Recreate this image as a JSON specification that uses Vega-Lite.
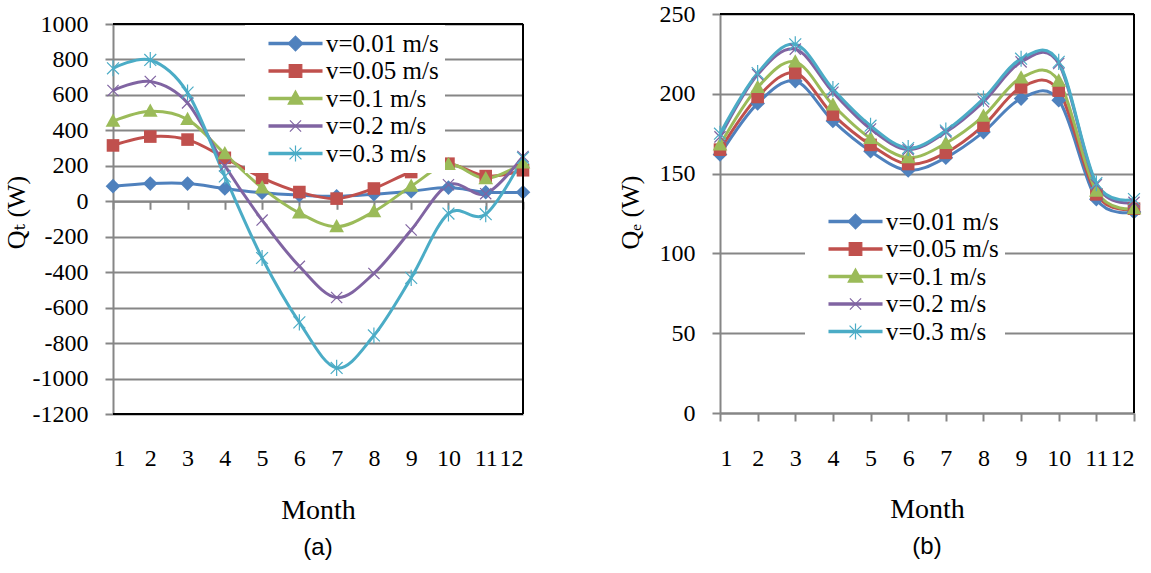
{
  "$schema": "https://vega.github.io/schema/vega-lite/v6.json",
  "background": "white",
  "padding": {"left": 3, "top": 2, "right": 5, "bottom": 5},
  "bounds": "flush",
  "spacing": 197,
  "resolve": {
    "scale": {"color": "independent", "shape": "independent", "stroke": "independent"},
    "legend": {"color": "independent", "shape": "independent", "stroke": "independent"}
  },
  "config": {
    "view": {"stroke": null},
    "axis": {
      "labelFont": "Liberation Serif", "labelFontSize": 24, "labelColor": "black",
      "titleFont": "Liberation Serif, DejaVu Serif", "titleFontSize": 26, "titleFontWeight": "normal", "titleColor": "black",
      "domainColor": "#868686", "domainWidth": 2, "tickColor": "#868686", "tickWidth": 2, "tickSize": 8,
      "gridColor": "#868686", "gridWidth": 2
    },
    "legend": {
      "padding": 6, "symbolSize": 196, "symbolOffset": 32, "labelOffset": 18,
      "labelFont": "Liberation Serif", "labelFontSize": 25, "labelColor": "black", "rowPadding": 1.5
    },
    "title": {"font": "Liberation Sans", "fontSize": 24, "fontWeight": "normal", "color": "black"}
  },
  "datasets": {
    "qt": [
      {"m": 1, "s": "v=0.01 m/s", "q": 85}, {"m": 2, "s": "v=0.01 m/s", "q": 100}, {"m": 3, "s": "v=0.01 m/s", "q": 100}, {"m": 4, "s": "v=0.01 m/s", "q": 72}, {"m": 5, "s": "v=0.01 m/s", "q": 48}, {"m": 6, "s": "v=0.01 m/s", "q": 35}, {"m": 7, "s": "v=0.01 m/s", "q": 28}, {"m": 8, "s": "v=0.01 m/s", "q": 40}, {"m": 9, "s": "v=0.01 m/s", "q": 57}, {"m": 10, "s": "v=0.01 m/s", "q": 77}, {"m": 11, "s": "v=0.01 m/s", "q": 51}, {"m": 12, "s": "v=0.01 m/s", "q": 51},
      {"m": 1, "s": "v=0.05 m/s", "q": 315}, {"m": 2, "s": "v=0.05 m/s", "q": 365}, {"m": 3, "s": "v=0.05 m/s", "q": 348}, {"m": 4, "s": "v=0.05 m/s", "q": 245}, {"m": 5, "s": "v=0.05 m/s", "q": 132}, {"m": 6, "s": "v=0.05 m/s", "q": 52}, {"m": 7, "s": "v=0.05 m/s", "q": 15}, {"m": 8, "s": "v=0.05 m/s", "q": 72}, {"m": 9, "s": "v=0.05 m/s", "q": 165}, {"m": 10, "s": "v=0.05 m/s", "q": 212}, {"m": 11, "s": "v=0.05 m/s", "q": 142}, {"m": 12, "s": "v=0.05 m/s", "q": 175},
      {"m": 1, "s": "v=0.1 m/s", "q": 452}, {"m": 2, "s": "v=0.1 m/s", "q": 508}, {"m": 3, "s": "v=0.1 m/s", "q": 462}, {"m": 4, "s": "v=0.1 m/s", "q": 268}, {"m": 5, "s": "v=0.1 m/s", "q": 76}, {"m": 6, "s": "v=0.1 m/s", "q": -66}, {"m": 7, "s": "v=0.1 m/s", "q": -143}, {"m": 8, "s": "v=0.1 m/s", "q": -58}, {"m": 9, "s": "v=0.1 m/s", "q": 85}, {"m": 10, "s": "v=0.1 m/s", "q": 208}, {"m": 11, "s": "v=0.1 m/s", "q": 128}, {"m": 12, "s": "v=0.1 m/s", "q": 216},
      {"m": 1, "s": "v=0.2 m/s", "q": 625}, {"m": 2, "s": "v=0.2 m/s", "q": 676}, {"m": 3, "s": "v=0.2 m/s", "q": 555}, {"m": 4, "s": "v=0.2 m/s", "q": 200}, {"m": 5, "s": "v=0.2 m/s", "q": -106}, {"m": 6, "s": "v=0.2 m/s", "q": -367}, {"m": 7, "s": "v=0.2 m/s", "q": -543}, {"m": 8, "s": "v=0.2 m/s", "q": -407}, {"m": 9, "s": "v=0.2 m/s", "q": -162}, {"m": 10, "s": "v=0.2 m/s", "q": 93}, {"m": 11, "s": "v=0.2 m/s", "q": 43}, {"m": 12, "s": "v=0.2 m/s", "q": 253},
      {"m": 1, "s": "v=0.3 m/s", "q": 750}, {"m": 2, "s": "v=0.3 m/s", "q": 797}, {"m": 3, "s": "v=0.3 m/s", "q": 613}, {"m": 4, "s": "v=0.3 m/s", "q": 140}, {"m": 5, "s": "v=0.3 m/s", "q": -320}, {"m": 6, "s": "v=0.3 m/s", "q": -683}, {"m": 7, "s": "v=0.3 m/s", "q": -940}, {"m": 8, "s": "v=0.3 m/s", "q": -757}, {"m": 9, "s": "v=0.3 m/s", "q": -432}, {"m": 10, "s": "v=0.3 m/s", "q": -69}, {"m": 11, "s": "v=0.3 m/s", "q": -73}, {"m": 12, "s": "v=0.3 m/s", "q": 245}
    ],
    "qe": [
      {"m": 1, "s": "v=0.01 m/s", "q": 162}, {"m": 2, "s": "v=0.01 m/s", "q": 194}, {"m": 3, "s": "v=0.01 m/s", "q": 208}, {"m": 4, "s": "v=0.01 m/s", "q": 183}, {"m": 5, "s": "v=0.01 m/s", "q": 164}, {"m": 6, "s": "v=0.01 m/s", "q": 152}, {"m": 7, "s": "v=0.01 m/s", "q": 160}, {"m": 8, "s": "v=0.01 m/s", "q": 176}, {"m": 9, "s": "v=0.01 m/s", "q": 197}, {"m": 10, "s": "v=0.01 m/s", "q": 196}, {"m": 11, "s": "v=0.01 m/s", "q": 134}, {"m": 12, "s": "v=0.01 m/s", "q": 126},
      {"m": 1, "s": "v=0.05 m/s", "q": 165}, {"m": 2, "s": "v=0.05 m/s", "q": 198}, {"m": 3, "s": "v=0.05 m/s", "q": 213}, {"m": 4, "s": "v=0.05 m/s", "q": 187}, {"m": 5, "s": "v=0.05 m/s", "q": 168}, {"m": 6, "s": "v=0.05 m/s", "q": 156}, {"m": 7, "s": "v=0.05 m/s", "q": 163}, {"m": 8, "s": "v=0.05 m/s", "q": 180}, {"m": 9, "s": "v=0.05 m/s", "q": 204}, {"m": 10, "s": "v=0.05 m/s", "q": 202}, {"m": 11, "s": "v=0.05 m/s", "q": 137}, {"m": 12, "s": "v=0.05 m/s", "q": 128},
      {"m": 1, "s": "v=0.1 m/s", "q": 168}, {"m": 2, "s": "v=0.1 m/s", "q": 204}, {"m": 3, "s": "v=0.1 m/s", "q": 220}, {"m": 4, "s": "v=0.1 m/s", "q": 193}, {"m": 5, "s": "v=0.1 m/s", "q": 172}, {"m": 6, "s": "v=0.1 m/s", "q": 160}, {"m": 7, "s": "v=0.1 m/s", "q": 169}, {"m": 8, "s": "v=0.1 m/s", "q": 186}, {"m": 9, "s": "v=0.1 m/s", "q": 210}, {"m": 10, "s": "v=0.1 m/s", "q": 208}, {"m": 11, "s": "v=0.1 m/s", "q": 139}, {"m": 12, "s": "v=0.1 m/s", "q": 128},
      {"m": 1, "s": "v=0.2 m/s", "q": 173}, {"m": 2, "s": "v=0.2 m/s", "q": 212}, {"m": 3, "s": "v=0.2 m/s", "q": 228}, {"m": 4, "s": "v=0.2 m/s", "q": 201}, {"m": 5, "s": "v=0.2 m/s", "q": 178}, {"m": 6, "s": "v=0.2 m/s", "q": 165}, {"m": 7, "s": "v=0.2 m/s", "q": 176}, {"m": 8, "s": "v=0.2 m/s", "q": 195}, {"m": 9, "s": "v=0.2 m/s", "q": 220}, {"m": 10, "s": "v=0.2 m/s", "q": 219}, {"m": 11, "s": "v=0.2 m/s", "q": 143}, {"m": 12, "s": "v=0.2 m/s", "q": 132},
      {"m": 1, "s": "v=0.3 m/s", "q": 175}, {"m": 2, "s": "v=0.3 m/s", "q": 213}, {"m": 3, "s": "v=0.3 m/s", "q": 231}, {"m": 4, "s": "v=0.3 m/s", "q": 203}, {"m": 5, "s": "v=0.3 m/s", "q": 180}, {"m": 6, "s": "v=0.3 m/s", "q": 166}, {"m": 7, "s": "v=0.3 m/s", "q": 177}, {"m": 8, "s": "v=0.3 m/s", "q": 197}, {"m": 9, "s": "v=0.3 m/s", "q": 222}, {"m": 10, "s": "v=0.3 m/s", "q": 220}, {"m": 11, "s": "v=0.3 m/s", "q": 144}, {"m": 12, "s": "v=0.3 m/s", "q": 134}
    ]
  },
  "hconcat": [
    {
      "width": 410,
      "height": 400,
      "data": {"name": "qt"},
      "title": {"text": "(a)", "orient": "bottom", "anchor": "middle", "offset": 12},
      "resolve": {"axis": {"x": "independent", "y": "independent"}},
      "layer": [
        {
          "mark": {"type": "line", "interpolate": "cardinal", "strokeWidth": 3},
          "encoding": {
            "x": {"field": "m", "type": "quantitative", "scale": {"domain": [1, 12], "nice": false, "zero": false},
              "axis": {"orient": "bottom", "values": [1,2,3,4,5,6,7,8,9,10,11,12], "format": "d", "domain": false, "ticks": false, "tickSize": 0, "labelPadding": 32, "grid": false, "title": "Month", "titleFontSize": 28, "titleY": 96, "titleBaseline": "middle"}},
            "y": {"field": "q", "type": "quantitative", "scale": {"domain": [-1200, 1000], "range": [400, 10], "nice": false, "zero": false},
              "axis": {"orient": "left", "values": [-1200,-1000,-800,-600,-400,-200,0,200,400,600,800,1000], "labelExpr": "'' + datum.value", "grid": true, "labelPadding": 17, "title": "Qₜ (W)", "titleX": -97, "titleY": 198, "titleAlign": "center", "titleBaseline": "middle", "titleAngle": 270}},
            "stroke": {"field": "s", "type": "nominal",
              "scale": {"domain": ["v=0.01 m/s","v=0.05 m/s","v=0.1 m/s","v=0.2 m/s","v=0.3 m/s","-"], "range": ["#4F81BD","#C0504D","#9BBB59","#8064A2","#4BACC6","#000000"]},
              "legend": {"title": null, "orient": "none", "legendX": 132, "legendY": 11, "values": ["v=0.01 m/s","v=0.05 m/s","v=0.1 m/s","v=0.2 m/s","v=0.3 m/s"],
                "symbolType": "M-3.86,0H3.86", "symbolStrokeWidth": 3.5, "labelOpacity": 0, "fillColor": "white", "zindex": 1}}
          }
        },
        {
          "transform": [{"filter": {"field": "s", "oneOf": ["v=0.01 m/s","v=0.05 m/s","v=0.1 m/s"]}}],
          "mark": {"type": "point", "filled": true, "size": 196, "strokeWidth": 1.2, "opacity": 1},
          "encoding": {
            "x": {"field": "m", "type": "quantitative", "scale": {"domain": [1, 12], "nice": false, "zero": false},
              "axis": {"orient": "bottom", "offset": -212.73, "values": [1,2,3,4,5,6,7,8,9,10,11,12], "labels": false, "domain": true, "ticks": true, "grid": false, "title": null}},
            "y": {"field": "q", "type": "quantitative", "scale": {"domain": [-1200, 1000], "range": [400, 10], "nice": false, "zero": false}, "axis": null},
            "color": {"field": "s", "type": "nominal",
              "scale": {"domain": ["v=0.01 m/s","v=0.05 m/s","v=0.1 m/s","v=0.2 m/s","v=0.3 m/s"], "range": ["#4F81BD","#C0504D","#9BBB59","#8064A2","#4BACC6"]},
              "legend": {"title": null, "orient": "none", "legendX": 132, "legendY": 11, "fillColor": "transparent", "zindex": 2, "symbolStrokeWidth": 1.2}},
            "shape": {"field": "s", "type": "nominal",
              "scale": {"domain": ["v=0.01 m/s","v=0.05 m/s","v=0.1 m/s","v=0.2 m/s","v=0.3 m/s"], "range": ["M0,-1.05L1.05,0L0,1.05L-1.05,0Z","M-0.9,-0.9H0.9V0.9H-0.9Z","M0,-1.1L1.05,0.8H-1.05Z","M-0.8,-0.8L0.8,0.8M-0.8,0.8L0.8,-0.8","M-0.85,-0.85L0.85,0.85M-0.85,0.85L0.85,-0.85M0,-1.15V1.15"]},
              "legend": {"title": null, "orient": "none", "legendX": 132, "legendY": 11, "fillColor": "transparent", "zindex": 2, "symbolStrokeWidth": 1.2}}
          }
        },
        {
          "transform": [{"filter": {"field": "s", "oneOf": ["v=0.2 m/s","v=0.3 m/s"]}}],
          "mark": {"type": "point", "filled": false, "size": 196, "strokeWidth": 1.2, "opacity": 1},
          "encoding": {
            "x": {"field": "m", "type": "quantitative", "scale": {"domain": [1, 12], "nice": false, "zero": false}, "axis": null},
            "y": {"field": "q", "type": "quantitative", "scale": {"domain": [-1200, 1000], "range": [400, 10], "nice": false, "zero": false}, "axis": null},
            "color": {"field": "s", "type": "nominal",
              "scale": {"domain": ["v=0.01 m/s","v=0.05 m/s","v=0.1 m/s","v=0.2 m/s","v=0.3 m/s"], "range": ["#4F81BD","#C0504D","#9BBB59","#8064A2","#4BACC6"]},
              "legend": {"title": null, "orient": "none", "legendX": 132, "legendY": 11, "fillColor": "transparent", "zindex": 2, "symbolStrokeWidth": 1.2}},
            "shape": {"field": "s", "type": "nominal",
              "scale": {"domain": ["v=0.01 m/s","v=0.05 m/s","v=0.1 m/s","v=0.2 m/s","v=0.3 m/s"], "range": ["M0,-1.05L1.05,0L0,1.05L-1.05,0Z","M-0.9,-0.9H0.9V0.9H-0.9Z","M0,-1.1L1.05,0.8H-1.05Z","M-0.8,-0.8L0.8,0.8M-0.8,0.8L0.8,-0.8","M-0.85,-0.85L0.85,0.85M-0.85,0.85L0.85,-0.85M0,-1.15V1.15"]},
              "legend": {"title": null, "orient": "none", "legendX": 132, "legendY": 11, "fillColor": "transparent", "zindex": 2, "symbolStrokeWidth": 1.2}}
          }
        },
        {
          "mark": {"type": "rule", "color": "black", "strokeWidth": 1.5},
          "encoding": {"y": {"datum": 1000, "type": "quantitative", "scale": {"domain": [-1200, 1000], "range": [400, 10], "nice": false, "zero": false}, "axis": null}}
        },
        {
          "mark": {"type": "rule", "color": "black", "strokeWidth": 1.5},
          "encoding": {"y": {"datum": -1200, "type": "quantitative", "scale": {"domain": [-1200, 1000], "range": [400, 10], "nice": false, "zero": false}, "axis": null}}
        },
        {
          "mark": {"type": "rule", "color": "black", "strokeWidth": 1.5},
          "encoding": {
            "x": {"datum": 12, "type": "quantitative", "scale": {"domain": [1, 12], "nice": false, "zero": false}, "axis": null},
            "y": {"datum": -1200, "type": "quantitative", "scale": {"domain": [-1200, 1000], "range": [400, 10], "nice": false, "zero": false}, "axis": null},
            "y2": {"datum": 1000}
          }
        }
      ]
    },
    {
      "width": 414,
      "height": 399,
      "data": {"name": "qe"},
      "title": {"text": "(b)", "orient": "bottom", "anchor": "middle", "offset": 12},
      "resolve": {"axis": {"x": "independent", "y": "independent"}},
      "layer": [
        {
          "mark": {"type": "line", "interpolate": "cardinal", "strokeWidth": 3},
          "encoding": {
            "x": {"field": "m", "type": "quantitative", "scale": {"domain": [1, 12], "nice": false, "zero": false},
              "axis": {"orient": "bottom", "values": [1,2,3,4,5,6,7,8,9,10,11,12], "format": "d", "domain": true, "ticks": true, "labelPadding": 25, "grid": false, "title": "Month", "titleFontSize": 28, "titleY": 96, "titleBaseline": "middle"}},
            "y": {"field": "q", "type": "quantitative", "scale": {"domain": [0, 250], "nice": false, "zero": false},
              "axis": {"orient": "left", "values": [0,50,100,150,200,250], "labelExpr": "'' + datum.value", "grid": true, "labelPadding": 17, "title": "Qₑ (W)", "titleX": -90, "titleY": 198, "titleAlign": "center", "titleBaseline": "middle", "titleAngle": 270}},
            "stroke": {"field": "s", "type": "nominal",
              "scale": {"domain": ["v=0.01 m/s","v=0.05 m/s","v=0.1 m/s","v=0.2 m/s","v=0.3 m/s","-"], "range": ["#4F81BD","#C0504D","#9BBB59","#8064A2","#4BACC6","#000000"]},
              "legend": {"title": null, "orient": "none", "legendX": 85, "legendY": 189, "values": ["v=0.01 m/s","v=0.05 m/s","v=0.1 m/s","v=0.2 m/s","v=0.3 m/s"],
                "symbolType": "M-3.86,0H3.86", "symbolStrokeWidth": 3.5, "labelOpacity": 0, "fillColor": "white", "zindex": 1}}
          }
        },
        {
          "transform": [{"filter": {"field": "s", "oneOf": ["v=0.01 m/s","v=0.05 m/s","v=0.1 m/s"]}}],
          "mark": {"type": "point", "filled": true, "size": 196, "strokeWidth": 1.2, "opacity": 1},
          "encoding": {
            "x": {"field": "m", "type": "quantitative", "scale": {"domain": [1, 12], "nice": false, "zero": false}, "axis": null},
            "y": {"field": "q", "type": "quantitative", "scale": {"domain": [0, 250], "nice": false, "zero": false}, "axis": null},
            "color": {"field": "s", "type": "nominal",
              "scale": {"domain": ["v=0.01 m/s","v=0.05 m/s","v=0.1 m/s","v=0.2 m/s","v=0.3 m/s"], "range": ["#4F81BD","#C0504D","#9BBB59","#8064A2","#4BACC6"]},
              "legend": {"title": null, "orient": "none", "legendX": 85, "legendY": 189, "fillColor": "transparent", "zindex": 2, "symbolStrokeWidth": 1.2}},
            "shape": {"field": "s", "type": "nominal",
              "scale": {"domain": ["v=0.01 m/s","v=0.05 m/s","v=0.1 m/s","v=0.2 m/s","v=0.3 m/s"], "range": ["M0,-1.05L1.05,0L0,1.05L-1.05,0Z","M-0.9,-0.9H0.9V0.9H-0.9Z","M0,-1.1L1.05,0.8H-1.05Z","M-0.8,-0.8L0.8,0.8M-0.8,0.8L0.8,-0.8","M-0.85,-0.85L0.85,0.85M-0.85,0.85L0.85,-0.85M0,-1.15V1.15"]},
              "legend": {"title": null, "orient": "none", "legendX": 85, "legendY": 189, "fillColor": "transparent", "zindex": 2, "symbolStrokeWidth": 1.2}}
          }
        },
        {
          "transform": [{"filter": {"field": "s", "oneOf": ["v=0.2 m/s","v=0.3 m/s"]}}],
          "mark": {"type": "point", "filled": false, "size": 196, "strokeWidth": 1.2, "opacity": 1},
          "encoding": {
            "x": {"field": "m", "type": "quantitative", "scale": {"domain": [1, 12], "nice": false, "zero": false}, "axis": null},
            "y": {"field": "q", "type": "quantitative", "scale": {"domain": [0, 250], "nice": false, "zero": false}, "axis": null},
            "color": {"field": "s", "type": "nominal",
              "scale": {"domain": ["v=0.01 m/s","v=0.05 m/s","v=0.1 m/s","v=0.2 m/s","v=0.3 m/s"], "range": ["#4F81BD","#C0504D","#9BBB59","#8064A2","#4BACC6"]},
              "legend": {"title": null, "orient": "none", "legendX": 85, "legendY": 189, "fillColor": "transparent", "zindex": 2, "symbolStrokeWidth": 1.2}},
            "shape": {"field": "s", "type": "nominal",
              "scale": {"domain": ["v=0.01 m/s","v=0.05 m/s","v=0.1 m/s","v=0.2 m/s","v=0.3 m/s"], "range": ["M0,-1.05L1.05,0L0,1.05L-1.05,0Z","M-0.9,-0.9H0.9V0.9H-0.9Z","M0,-1.1L1.05,0.8H-1.05Z","M-0.8,-0.8L0.8,0.8M-0.8,0.8L0.8,-0.8","M-0.85,-0.85L0.85,0.85M-0.85,0.85L0.85,-0.85M0,-1.15V1.15"]},
              "legend": {"title": null, "orient": "none", "legendX": 85, "legendY": 189, "fillColor": "transparent", "zindex": 2, "symbolStrokeWidth": 1.2}}
          }
        },
        {
          "mark": {"type": "rule", "color": "black", "strokeWidth": 1.5},
          "encoding": {"y": {"datum": 250, "type": "quantitative", "scale": {"domain": [0, 250], "nice": false, "zero": false}, "axis": null}}
        },
        {
          "mark": {"type": "rule", "color": "black", "strokeWidth": 1.5},
          "encoding": {
            "x": {"datum": 12, "type": "quantitative", "scale": {"domain": [1, 12], "nice": false, "zero": false}, "axis": null},
            "y": {"datum": 0, "type": "quantitative", "scale": {"domain": [0, 250], "nice": false, "zero": false}, "axis": null},
            "y2": {"datum": 250}
          }
        }
      ]
    }
  ]
}
